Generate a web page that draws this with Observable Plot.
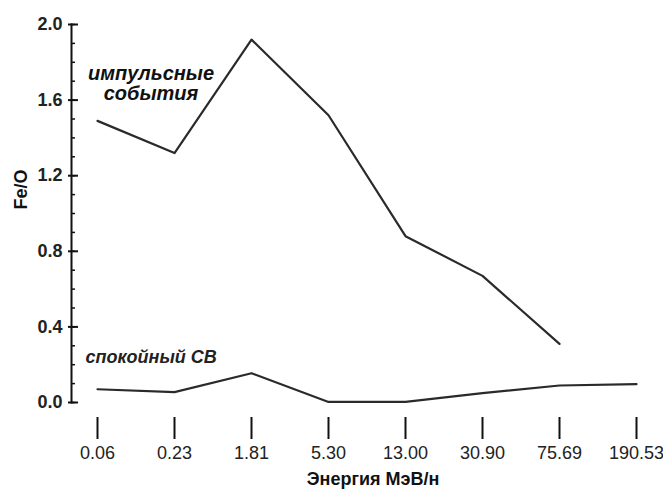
<!DOCTYPE html>
<html>
<head>
<meta charset="utf-8">
<script src="https://cdn.jsdelivr.net/npm/d3@7"></script>
<script src="https://cdn.jsdelivr.net/npm/@observablehq/plot@0.6"></script>
<style>
  html, body { margin: 0; padding: 0; background: #fff; }
</style>
</head>
<body>
<div id="chart"></div>
<script>
// Energy categories (MeV/nucleon)
const energies = ["0.06", "0.23", "1.81", "5.30", "13.00", "30.90", "75.69", "190.53"];
// Fe/O ratio, impulsive events (no value at 190.53)
const impulsive = [1.49, 1.32, 1.92, 1.52, 0.88, 0.67, 0.31, null];
// Fe/O ratio, quiet solar wind
const quiet = [0.07, 0.055, 0.155, 0.003, 0.003, 0.05, 0.09, 0.097];
// y ticks
const yMajor = [0.0, 0.4, 0.8, 1.2, 1.6, 2.0];
const yMinor = d3.range(0, 21).map(i => i / 10);

const labelImpulsive = "импульсные\nсобытия";
const labelQuiet = "спокойный СВ";
const xLabel = "Энергия МэВ/н";
const yLabel = "Fe/O";

const impData = energies.map((e, i) => ({e, v: impulsive[i]})).filter(d => d.v != null);
const quietData = energies.map((e, i) => ({e, v: quiet[i]}));

const font = "'Liberation Sans', Arial, sans-serif";

const chart = Plot.plot({
  width: 663,
  height: 493,
  marginLeft: 71,
  marginRight: 25,
  marginTop: 24,
  marginBottom: 91,
  style: {fontFamily: font, background: "#fff"},
  x: {type: "point", domain: energies, range: [95, 638], padding: 0},
  y: {domain: [0, 2]},
  marks: [
    Plot.line(impData, {x: "e", y: "v", stroke: "#2a2a2a", strokeWidth: 2.2}),
    Plot.line(quietData, {x: "e", y: "v", stroke: "#2a2a2a", strokeWidth: 2.2}),
    Plot.text([labelImpulsive], {x: () => energies[0], y: () => 1.685, dx: 53.5, textAnchor: "middle",
      lineAnchor: "middle", lineHeight: 1, fontSize: 20, fontWeight: "bold", fontStyle: "italic", fill: "#111"}),
    Plot.text([labelQuiet], {x: () => energies[0], y: () => 0.24, dx: -12, textAnchor: "start",
      fontSize: 18, fontWeight: "bold", fontStyle: "italic", fill: "#222"}),
    Plot.text([xLabel], {frameAnchor: "bottom", dx: 18, dy: 82, fontSize: 18, fontWeight: "bold", fill: "#111"}),
    Plot.text([yLabel], {frameAnchor: "left", rotate: -90, dx: -50, dy: -4, fontSize: 18, fontWeight: "bold", fill: "#111"}),
    Plot.axisX({tickSize: 22, tickPadding: 7, dy: 15, label: null, fontSize: 18, fill: "#222",
      stroke: "#111", strokeWidth: 2}),
    Plot.axisY(yMajor, {tickSize: 3, tickPadding: 6, tickFormat: d => d.toFixed(1), label: null,
      fontSize: 18, fontWeight: "bold", fill: "#222", stroke: "#111", strokeWidth: 2}),
    Plot.axisY(yMinor, {tickSize: -4, tickFormat: () => "", label: null, stroke: "#111", strokeWidth: 1.5}),
    Plot.axisY(yMajor, {tickSize: -7, tickFormat: () => "", label: null, stroke: "#111", strokeWidth: 2}),
    Plot.frame({anchor: "left", stroke: "#111", strokeWidth: 2})
  ]
});
document.getElementById("chart").appendChild(chart);
</script>
</body>
</html>
